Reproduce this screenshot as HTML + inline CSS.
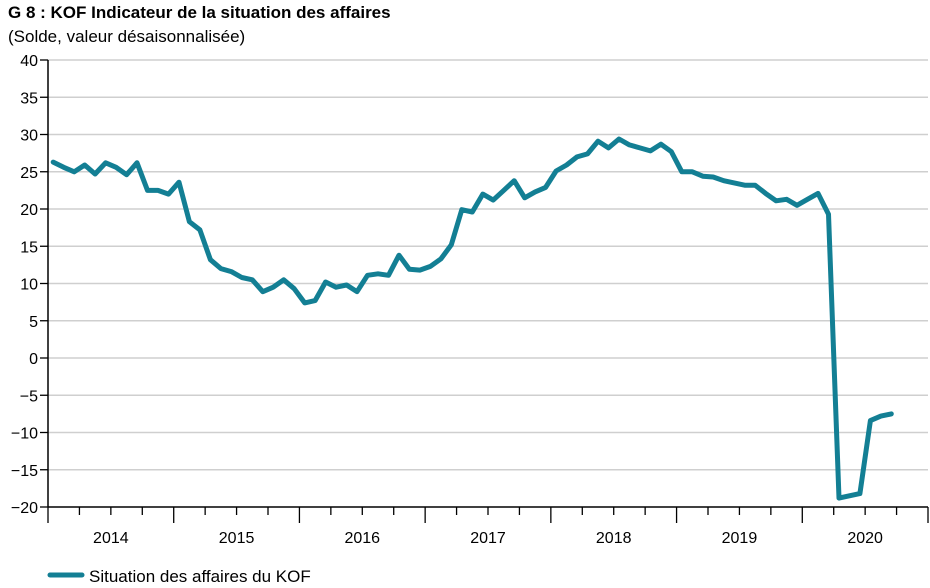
<!DOCTYPE html>
<html><head><meta charset="utf-8"><style>
body{margin:0;background:#fff;font-family:"Liberation Sans",Arial,sans-serif}
svg{display:block}
</style></head><body>
<svg id="c" width="930" height="588">
<text x="8" y="18" font-size="17" font-weight="bold" fill="#000">G 8 : KOF Indicateur de la situation des affaires</text>
<text x="8" y="42" font-size="17" fill="#000">(Solde, valeur désaisonnalisée)</text>
<g id="grid"></g><g id="axes"></g><g id="series"></g>
<g>
<line x1="50" y1="575" x2="82" y2="575" stroke="#137f94" stroke-width="5" stroke-linecap="round"/>
<text x="89" y="582" font-size="17" fill="#000">Situation des affaires du KOF</text>
</g>
</svg>
<script>
const years=["2014","2015","2016","2017","2018","2019","2020"];
const yTicks=[40,35,30,25,20,15,10,5,0,-5,-10,-15,-20];
const values=[26.3,25.6,25.0,25.9,24.7,26.2,25.6,24.6,26.2,22.5,22.5,22.0,
23.6,18.3,17.2,13.2,12.0,11.6,10.8,10.5,8.9,9.5,10.5,9.3,
7.4,7.7,10.2,9.5,9.8,8.9,11.1,11.3,11.1,13.8,11.9,11.8,
12.3,13.3,15.2,19.9,19.6,22.0,21.2,22.5,23.8,21.5,22.3,22.9,
25.1,25.9,27.0,27.4,29.1,28.2,29.4,28.6,28.2,27.8,28.7,27.7,
25.0,25.0,24.4,24.3,23.8,23.5,23.2,23.2,22.1,21.1,21.3,20.5,
21.3,22.1,19.3,-18.8,-18.5,-18.2,-8.4,-7.8,-7.5];
const NS="http://www.w3.org/2000/svg";
const X0=48,X1=928,YT=60,YB=507,yMin=-20,yMax=40;
const monthW=(X1-X0)/(years.length*12);
const xM=i=>X0+(i+0.5)*monthW;
const y=v=>YB-(v-yMin)/(yMax-yMin)*(YB-YT);
function mk(tag,attrs,parent){const e=document.createElementNS(NS,tag);for(const k in attrs)e.setAttribute(k,attrs[k]);parent.appendChild(e);return e;}
const grid=document.getElementById('grid'),axes=document.getElementById('axes'),ser=document.getElementById('series');
yTicks.forEach(t=>{
  if(t!==yMin){const g=mk('line',{x1:X0,x2:X1,y1:y(t),y2:y(t),stroke:'#cfcfcf','stroke-width':1.5},grid);
  
  }
  const tk=mk('line',{x1:X0-8,x2:X0,y1:y(t),y2:y(t),stroke:'#000','stroke-width':1.3},axes);
  
  
  const lb=mk('text',{x:X0-10,y:y(t)+6,'font-size':16,'text-anchor':'end',fill:'#000'},axes);
  lb.textContent=t<0?'\u2212'+(-t):String(t);
  
  
});
const ya=mk('line',{x1:X0,x2:X0,y1:YT,y2:YB,stroke:'#000','stroke-width':1.5},axes);


const xa=mk('line',{x1:X0,x2:X1,y1:YB,y2:YB,stroke:'#000','stroke-width':1.5},axes);


for(let q=0;q<=years.length*4;q++){
  const xx=X0+q*3*monthW,big=q%4===0;
  const tk=mk('line',{x1:xx,x2:xx,y1:YB,y2:YB+(big?16:8),stroke:'#000','stroke-width':1.3},axes);
  
  
}
years.forEach((yr,i)=>{
  const lb=mk('text',{x:X0+(i+0.5)*12*monthW,y:543,'font-size':16,'text-anchor':'middle',fill:'#000'},axes);
  lb.textContent=yr;
  
  
});
const p=mk('polyline',{points:values.map((v,i)=>xM(i).toFixed(1)+','+y(v).toFixed(1)).join(' '),fill:'none',stroke:'#137f94','stroke-width':5,'stroke-linejoin':'round','stroke-linecap':'round'},ser);


</script>
</body></html>
